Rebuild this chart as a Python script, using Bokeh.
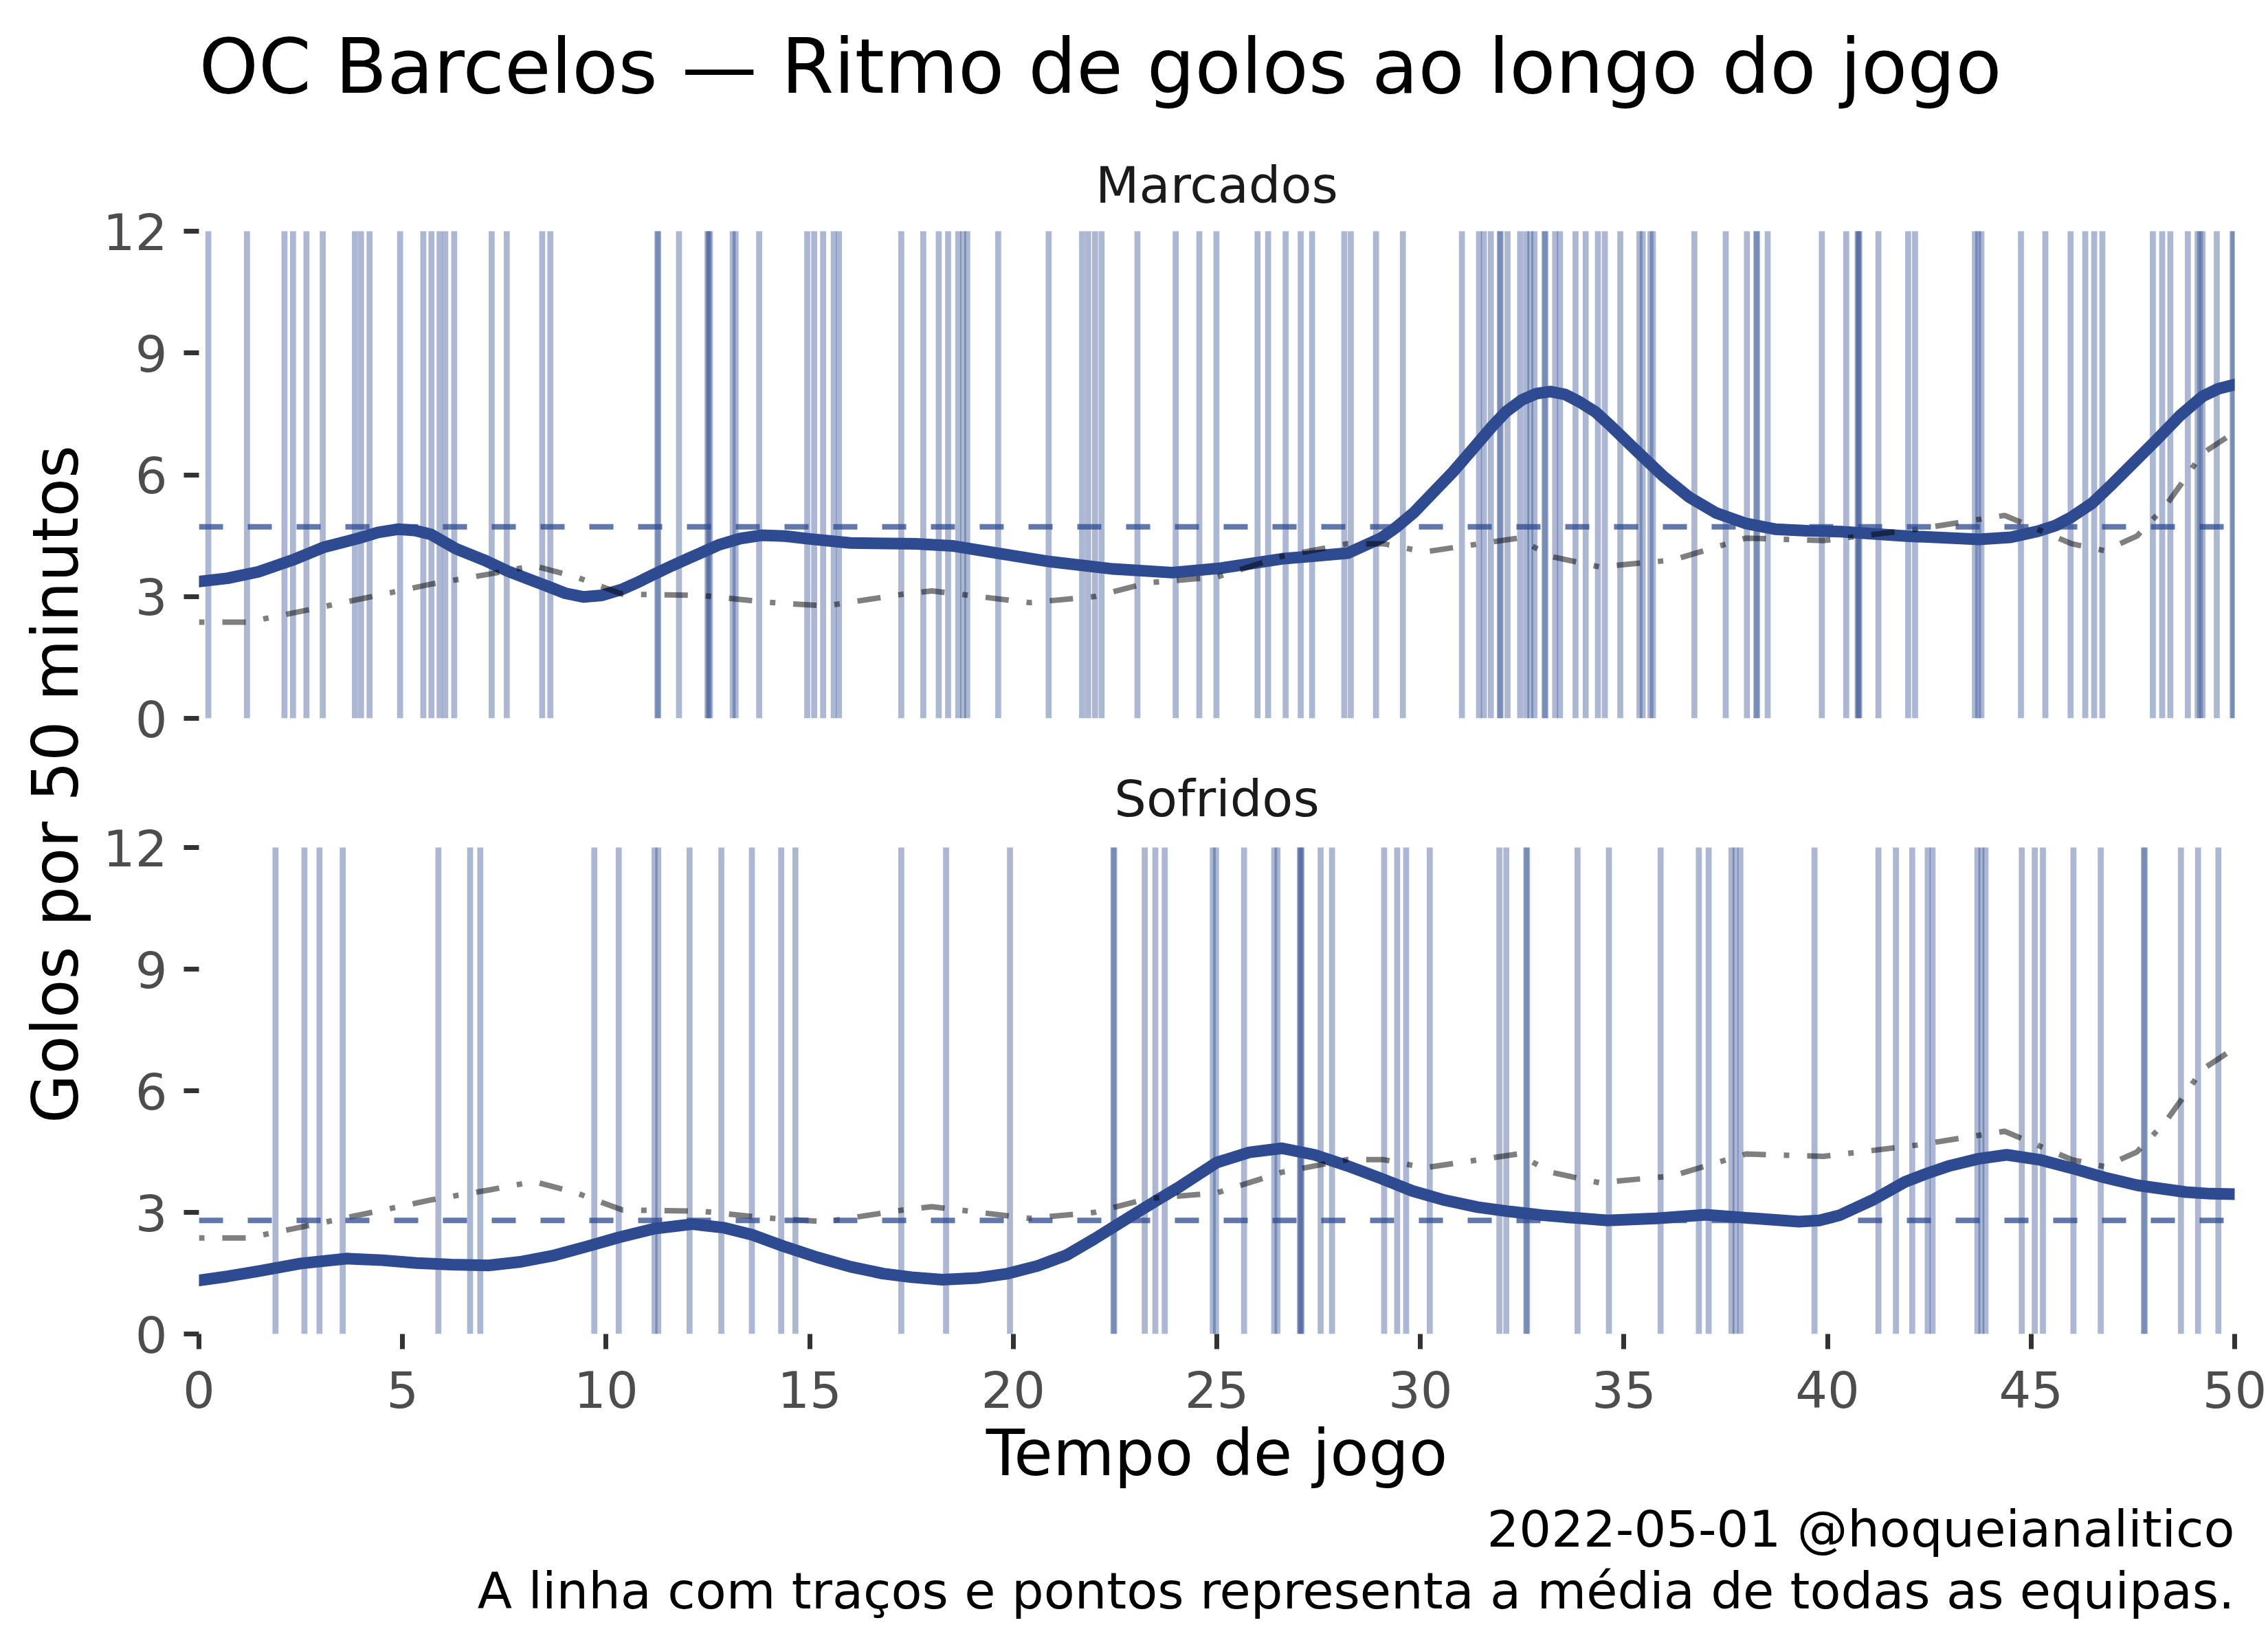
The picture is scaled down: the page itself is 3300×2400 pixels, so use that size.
import math
from bokeh.plotting import figure
from bokeh.models import Range1d, FixedTicker, Span, Label, Title, ColumnDataSource
from bokeh.layouts import row, column
from bokeh.embed import file_html
from bokeh.resources import INLINE

# ---------------- data ----------------
title_text = "OC Barcelos \u2014 Ritmo de golos ao longo do jogo"
panel_names = ["Marcados", "Sofridos"]
x_title = "Tempo de jogo"
y_title = "Golos por 50 minutos"
caption_lines = ["2022-05-01 @hoqueianalitico",
                 "A linha com tra\u00e7os e pontos representa a m\u00e9dia de todas as equipas."]
x_ticks = [0, 5, 10, 15, 20, 25, 30, 35, 40, 45, 50]
y_ticks = [0, 3, 6, 9, 12]

# goal times (minutes) - scored
goals_for = [0.23, 1.18, 2.10, 2.31, 2.64, 3.04, 3.83, 3.98, 4.19, 4.94, 5.51, 5.71, 5.91, 6.05,
             6.27, 7.19, 7.56, 8.43, 8.63,
             11.26, 11.28, 11.79, 12.49, 12.52, 12.55, 13.11, 13.18, 13.76, 14.94, 15.11, 15.33,
             15.59, 15.72, 17.25, 17.79, 18.17, 18.40, 18.65, 18.77, 18.87, 19.63,
             20.87, 21.69, 21.84, 22.01, 22.17, 23.05, 23.99, 24.57, 24.99, 26.00, 26.26, 26.69,
             27.06, 27.34, 28.13, 28.29, 28.91, 29.57,
             31.02, 31.44, 31.56, 31.73, 31.95, 31.97, 32.14, 32.45, 32.60, 32.70, 32.80, 33.05,
             33.07, 33.31, 33.43, 33.81, 34.06, 34.36, 34.53, 34.91, 35.38, 35.46, 35.65, 35.71,
             36.73, 37.50, 38.02, 38.25, 38.27, 38.53, 39.86, 40.46,
             40.74, 40.76, 40.78, 41.25, 41.98, 42.15, 43.62, 43.70, 43.78, 44.75, 45.35, 45.97,
             46.33, 46.55, 46.75, 47.99, 48.22, 48.42, 48.85, 49.09, 49.15, 49.21, 49.56, 49.95,
             49.97]

# goal times (minutes) - conceded
goals_against = [1.88, 2.59, 2.96, 3.53, 5.88, 6.66, 6.91, 9.71, 10.31, 11.19, 11.28, 12.05,
                 12.83, 13.58, 14.30, 14.65, 17.25, 18.35, 19.92, 22.46, 22.48, 23.23, 23.49,
                 23.72, 24.90, 24.98, 25.67, 26.41, 26.49, 27.04, 27.06, 27.08, 27.55, 27.83,
                 29.11, 29.43, 29.65, 30.23, 31.94, 32.11, 32.60, 32.62, 33.86, 34.63, 35.90,
                 36.84, 37.08, 37.64, 37.74, 37.86, 39.68, 41.25, 41.68, 42.08, 42.46, 42.58,
                 43.68, 43.78, 43.88, 44.77, 45.09, 45.29, 46.04, 46.71, 47.77, 47.79, 48.68,
                 49.10, 49.60]

# smoothed rate - scored
rate_for_min = [0, 0.7, 1.46, 2.3, 3.08, 3.9, 4.4, 4.9, 5.3, 5.7, 6.31, 7.0, 7.6, 8.57, 9.0,
                9.45, 9.9, 10.4, 10.8, 11.14, 11.6, 12.0, 12.76, 13.3, 13.81, 14.4, 15.0, 16.0,
                17.61, 18.5, 19.22, 20.84, 22.45, 23.9, 25.1, 26.6, 27.4, 28.22, 29.03, 29.4,
                29.83, 30.3, 30.8, 31.3, 31.77, 32.1, 32.5, 32.85, 33.19, 33.55, 33.9, 34.3,
                34.68, 35.3, 35.97, 36.6, 37.26, 38.0, 38.71, 39.5, 40.33, 41.94, 43.72, 44.5,
                45.17, 45.6, 45.98, 46.5, 46.95, 47.5, 48.08, 48.65, 49.21, 49.6, 50]
rate_for = [3.37, 3.45, 3.61, 3.90, 4.22, 4.43, 4.58, 4.66, 4.63, 4.53, 4.18, 3.90, 3.62, 3.25,
            3.08, 2.99, 3.03, 3.18, 3.36, 3.53, 3.75, 3.93, 4.27, 4.43, 4.51, 4.49, 4.42, 4.32,
            4.30, 4.25, 4.13, 3.87, 3.68, 3.59, 3.70, 3.93, 4.00, 4.07, 4.44, 4.70,
            5.06, 5.55, 6.07, 6.65, 7.20, 7.55, 7.85, 8.00, 8.05, 7.98, 7.80, 7.55,
            7.20, 6.60, 5.96, 5.45, 5.06, 4.80, 4.66, 4.62, 4.60, 4.49, 4.41, 4.46,
            4.61, 4.75, 4.95, 5.30, 5.73, 6.28, 6.86, 7.45, 7.93, 8.12, 8.22]

# smoothed rate - conceded
rate_against_min = [0, 0.7, 1.46, 2.5, 3.64, 4.5, 5.34, 6.2, 7.11, 7.9, 8.73, 9.5, 10.34, 11.2,
                    12.12, 12.9, 13.58, 14.4, 15.19, 16.0, 16.8, 17.5, 18.26, 19.1, 19.87, 20.6,
                    21.3, 22.0, 22.8, 23.5, 24.1, 25.0, 25.8, 26.6, 27.4, 28.2, 29.0, 29.8, 30.6,
                    31.4, 32.2, 33.0, 34.6, 35.8, 37.0, 38.2, 39.3, 39.8, 40.3, 41.1, 41.9, 42.5,
                    43.0, 43.7, 44.4, 45.2, 46.0, 46.8, 47.6, 48.8, 49.4, 50]
rate_against = [1.32, 1.42, 1.55, 1.74, 1.86, 1.82, 1.75, 1.71, 1.69, 1.78, 1.94, 2.15, 2.39,
                2.60, 2.71, 2.62, 2.45, 2.15, 1.89, 1.66, 1.49, 1.40, 1.34, 1.38, 1.49, 1.68,
                1.94, 2.35, 2.85, 3.28, 3.64, 4.23, 4.48, 4.58, 4.42, 4.15, 3.85, 3.53, 3.30,
                3.13, 3.02, 2.93, 2.80, 2.85, 2.94, 2.85, 2.77, 2.80, 2.93, 3.30, 3.75, 3.98,
                4.15, 4.32, 4.42, 4.30, 4.09, 3.86, 3.67, 3.50, 3.46, 3.45]

# league average (same in both panels)
avg_min = [0, 1.2, 2.33, 4.11, 5.72, 7.17, 8.22, 9.27, 9.8, 10.4, 12.33, 13.95, 15.4, 17.3,
           18.0, 20.4, 22.0, 23.3, 25.0, 26.6, 28.2, 29.1, 30.1, 32.4, 33.2, 34.4, 36.2, 38.0,
           39.9, 42.2, 44.35, 46.0, 46.8, 47.6, 48.3, 48.7, 49.2, 50]
avg_rate = [2.37, 2.37, 2.60, 2.97, 3.31, 3.56, 3.76, 3.48, 3.28, 3.06, 3.03, 2.86, 2.77, 3.06,
            3.14, 2.85, 3.00, 3.34, 3.48, 3.99, 4.30, 4.30, 4.10, 4.44, 3.99, 3.73, 3.90, 4.44,
            4.38, 4.66, 5.00, 4.30, 4.13, 4.49, 5.23, 5.79, 6.52, 7.05]

mean_for = 4.72
mean_against = 2.80

# ---------------- style / geometry ----------------
FONT = "DejaVu Sans"
BLUE = "#2E4A90"
TICK_C = "#333333"
LAB_C = "#4D4D4D"
YW = 138            # width of the y-title strip
W = 3300 - YW       # width of the main column
BL, BR = 151, 49    # left / right borders of the panels
SMALL = 73.6
AXT = 92
BIG = 110
K = 0.275           # baseline correction (fraction of font size)

# panel A: page 0..1100, frame 0..1045 ; panel B: page 1100..2400, frame 1100..1941
A_H, A_BOT = 1100, 55
B_H, B_BOT = 1300, 459
A_PPU = (1045 - 336) / 12.0
B_PPU = (1941 - 1233) / 12.0
A_TOP = (A_H - A_BOT) / A_PPU
B_TOP = (B_H - B_BOT) / B_PPU


def blank(fig):
    fig.outline_line_color = None
    fig.background_fill_color = "white"
    fig.border_fill_color = "white"
    fig.xgrid.visible = False
    fig.ygrid.visible = False


def make_panel(height, ytop, bottom, times, cx, cy, mean, show_x):
    p = figure(width=W, height=height, x_range=Range1d(0, 50), y_range=Range1d(0, ytop),
               output_backend="svg", toolbar_location=None,
               x_axis_location="below" if show_x else None,
               min_border_left=BL, min_border_right=BR,
               min_border_top=0, min_border_bottom=bottom)
    blank(p)
    p.yaxis.ticker = FixedTicker(ticks=y_ticks)
    axes = list(p.yaxis) + (list(p.xaxis) if show_x else [])
    for ax in axes:
        ax.axis_line_color = None
        ax.major_tick_line_color = TICK_C
        ax.major_tick_line_width = 7
        ax.major_tick_out = 22
        ax.major_tick_in = 0
        ax.minor_tick_line_color = None
        ax.major_label_text_font = FONT
        ax.major_label_text_font_size = f"{SMALL}px"
        ax.major_label_text_color = LAB_C
    p.yaxis.major_label_standoff = 24
    if show_x:
        p.xaxis.ticker = FixedTicker(ticks=x_ticks)
        p.xaxis.major_label_standoff = 31
        p.xaxis.axis_label = x_title
        p.xaxis.axis_label_text_font = FONT
        p.xaxis.axis_label_text_font_size = f"{AXT}px"
        p.xaxis.axis_label_text_font_style = "normal"
        p.xaxis.axis_label_text_color = "black"
        p.xaxis.axis_label_standoff = 10

    src = ColumnDataSource(dict(t=times))
    p.segment(x0="t", y0=0, x1="t", y1=12, source=src, line_color=BLUE,
              line_alpha=0.4, line_width=8.7)
    p.line(cx, cy, line_color=BLUE, line_width=17, line_join="round", line_cap="round")
    p.add_layout(Span(location=mean, dimension="width", line_color=BLUE, line_alpha=0.75,
                      line_width=8, line_dash="35 36"))
    p.line(avg_min, avg_rate, line_color="black", line_alpha=0.5, line_width=8,
           line_dash="8 26 34 26")
    return p


def txt(fig, x, y_zero_page, ppu, baseline, text, size, color, align):
    # y given as page baseline; converted into the panel's data units
    yd = (y_zero_page - (baseline - K * size)) / ppu
    fig.add_layout(Label(x=x, y=yd, text=text, text_font=FONT,
                         text_font_size=f"{size}px", text_color=color,
                         text_align=align, text_baseline="alphabetic"))


figA = make_panel(A_H, A_TOP, A_BOT, goals_for, rate_for_min, rate_for, mean_for, False)
figB = make_panel(B_H, B_TOP, B_BOT, goals_against, rate_against_min, rate_against,
                  mean_against, True)

txt(figA, 0, 1045, A_PPU, 127, title_text, BIG, "black", "left")
txt(figA, 25, 1045, A_PPU, 289, panel_names[0], SMALL, "#1A1A1A", "center")
txt(figB, 25, 1941, B_PPU, 1182, panel_names[1], SMALL, "#1A1A1A", "center")

caption_standoffs = [19, -13]
for line, so in zip(caption_lines, caption_standoffs):
    figB.add_layout(Title(text=line, align="right", text_font=FONT,
                          text_font_size=f"{SMALL}px", text_font_style="normal",
                          text_color="black", standoff=so), "below")

# y-axis title strip (page coordinates)
figY = figure(width=YW, height=2400, x_range=Range1d(0, YW), y_range=Range1d(2400, 0),
              output_backend="svg", toolbar_location=None,
              x_axis_location=None, y_axis_location=None,
              min_border_left=0, min_border_right=0, min_border_top=0, min_border_bottom=0)
blank(figY)
figY.add_layout(Label(x=81, y=1141, text=y_title, angle=math.pi / 2, text_font=FONT,
                      text_font_size=f"{AXT}px", text_color="black",
                      text_align="center", text_baseline="alphabetic"))

layout = row(figY, column(figA, figB))
open("out.html", "w").write(file_html(layout, INLINE))
